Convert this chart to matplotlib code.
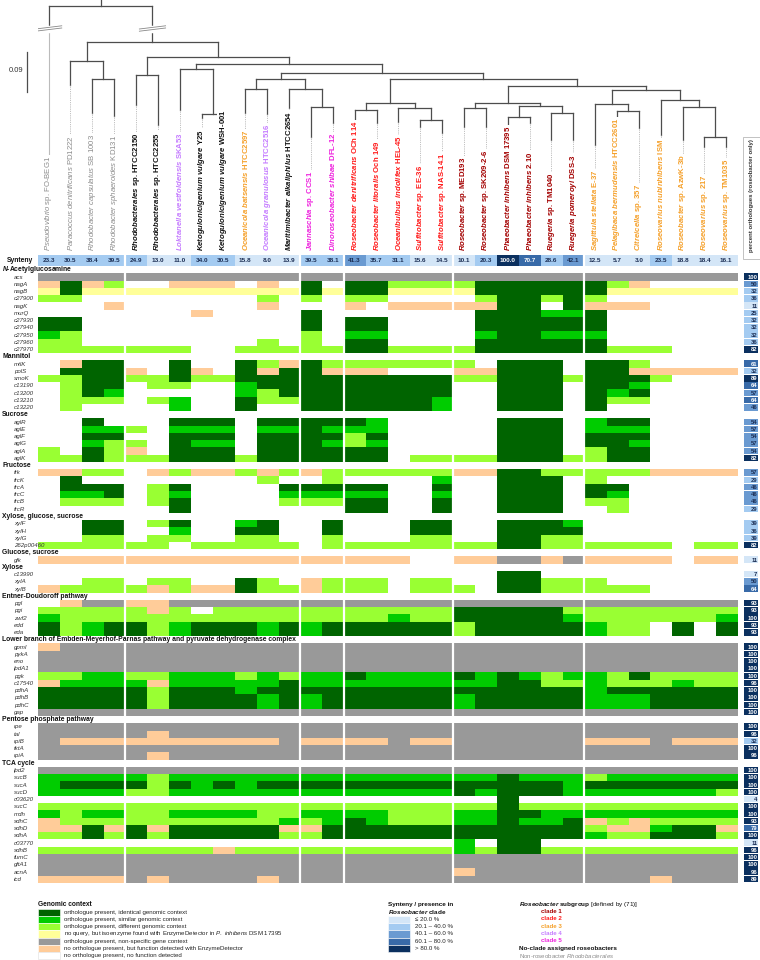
import numpy as np
import matplotlib
matplotlib.use("Agg")
import matplotlib.pyplot as plt
from matplotlib.patches import Rectangle
from matplotlib.colors import to_rgb
from matplotlib import font_manager as fm

_names = {f.name for f in fm.fontManager.ttflist}
NARROW = 'Liberation Sans Narrow' if 'Liberation Sans Narrow' in _names else 'Liberation Sans'
plt.rcParams['font.family'] = [NARROW, 'DejaVu Sans']
plt.rcParams['mathtext.fontset'] = 'custom'
plt.rcParams['mathtext.rm'] = NARROW
plt.rcParams['mathtext.it'] = NARROW + ':italic'
plt.rcParams['mathtext.bf'] = NARROW + ':italic:bold'
plt.rcParams['mathtext.sf'] = NARROW + ':bold'

# ---------------- data ----------------
ORG_GENUS = ["Pseudovibrio", "Paracoccus denitrificans", "Rhodobacter capsulatus", "Rhodobacter sphaeroides",
             "Rhodobacterales", "Rhodobacterales", "Loktanella vestfoldensis", "Ketogulonicigenium vulgare",
             "Ketogulonicigenium vulgare", "Oceanicola batsensis", "Oceanicola granulosus", "Maritimibacter alkaliphilus",
             "Jannaschia", "Dinoroseobacter shibae", "Roseobacter denitrificans", "Roseobacter litoralis",
             "Oceanibulbus indolifex", "Sulfitobacter", "Sulfitobacter", "Roseobacter", "Roseobacter",
             "Phaeobacter inhibens", "Phaeobacter inhibens", "Ruegeria", "Ruegeria pomeroyi", "Sagittula stellata",
             "Pelagibaca bermudensis", "Citreicella", "Roseovarius nubinhibens", "Roseobacter", "Roseovarius",
             "Roseovarius"]
ORG_STRAIN = ["sp. FO-BEG1", "PD1222", "SB 1003", "KD131", "sp. HTCC2150", "sp. HTCC2255", "SKA53", "Y25",
              "WSH-001", "HTCC2597", "HTCC2516", "HTCC2654", "sp. CCS1", "DFL-12", "OCh 114", "Och 149", "HEL-45",
              "sp. EE-36", "sp. NAS-14.1", "sp. MED193", "sp. SK209-2-6", "DSM 17395", "2.10", "sp. TM1040",
              "DSS-3", "E-37", "HTCC2601", "sp. 357", "ISM", "sp. AzwK-3b", "sp. 217", "sp. TM1035"]
ORG_GROUP = ["non", "non", "non", "non", "none", "none", "c4", "none", "none", "c3", "c4", "none", "c5", "c5",
             "c2", "c2", "c2", "c2", "c2", "c1", "c1", "c1", "c1", "c1", "c1", "c3", "c3", "c3", "c3", "c3", "c3", "c3"]
SYNTENY = [23.3, 30.5, 38.4, 39.5, 24.9, 13.0, 11.0, 34.0, 30.5, 15.8, 8.0, 13.9, 39.5, 38.1, 41.3, 35.7,
           31.1, 15.6, 14.5, 10.1, 20.3, 100.0, 70.7, 28.6, 42.1, 12.5, 5.7, 3.0, 23.5, 18.8, 18.4, 16.1]
GROUP_BOUNDS = [4, 12, 14, 19, 25]

# tree: leaf = column index, node = (height, left, right)
n_rhodo = (79, 2, 3)
n_para = (61, 1, n_rhodo)
n_htcc = (75, 4, 5)
n_keto = (114, 7, 8)
n_lokt = (69, 6, n_keto)
n_ocean = (89, 9, 10)
n_jann = (107, 12, 13)
n_mari = (88.7, 11, n_jann)
n_D = (79.3, n_ocean, n_mari)
n_rden = (110, 14, 15)
n_sulf = (120, 17, 18)
n_oind = (108, 16, n_sulf)
n_c2 = (103, n_rden, n_oind)
n_med = (108, 19, 20)
n_phaeo = (116.7, 21, 22)
n_rueg = (112.7, 23, 24)
n_X = (106, n_phaeo, n_rueg)
n_c1 = (102.7, n_med, n_X)
n_cit = (111, 26, 27)
n_AA = (104, 25, n_cit)
n_r217 = (137, 30, 31)
n_DD = (107, 29, n_r217)
n_BB = (100, 28, n_DD)
n_c3 = (90, n_AA, n_BB)
n_other = (86, n_c1, n_c3)
n_E = (79.3, n_c2, n_other)
n_C = (72.7, n_D, n_E)
n_B = (64, n_lokt, n_C)
n_Bp = (57, n_htcc, n_B)
n_A = (42, n_para, n_Bp)
ROOT = (5.7, 0, n_A)
LEAF_TIP = [31, 85, 113, 116, 105, 125, 110, 118, 128, 113, 114, 108, 137, 123, 120, 123, 122, 127, 133, 127,
            127, 127, 123, 140, 140, 145, 135, 128, 135, 140, 147, 147]

GENES_NAG = ["acs", "nagA", "nagB", "c27900", "nagK", "murQ", "c27930", "c27940", "c27950", "c27960", "c27970"]
CODES_NAG = ["GGGGGGGGGGGGGGGG" "GGGGGGGGGGGGGGGG",
             "PDPL..PPP.P.D.DD" "LLLLDDDDDDLP....",
             "YDYYYYYYYYYYDYDD" "YYYYDDDDDDYYYYYY",
             "LL........L.L.LL" "....LDDLDL......",
             "...P......P...P." "PPPPPDD.DPPP....",
             ".......P....D..." "....DDDMMD......",
             "DD..........D.DD" "....DDDDDD......",
             "DD..........D.DD" "....DDDDDD......",
             "ML..........L.MM" "....MDDMMM......",
             "LL........L.L.DD" "....DDDDDD......",
             "LLLLLLL..LLLLLDD" "LLLLDDDDDDLLL..."]
PCT_NAG = [100, 50, 32, 36, 11, 25, 32, 32, 32, 36, 82]

GENES_MAN = ["mtlK", "polS", "smoK", "c13190", "c13200", "c13210", "c13220"]
CODES_MAN = [".PDD..D..DLPDLLL" "LLLL.DDD.DDL....",
             ".DDDP.DP.DPDDPPP" "...PPDDD.DDPPPPP",
             "LLDDLLDLLDDDDDDD" "DDDLLDDDLDDDL...",
             ".LDD.LL..MDDDDDD" "DDD..DDD.DDM....",
             ".LDM.....MLDDDDD" "DDD..DDD.DMD....",
             ".LLL.LM..DLLDDDD" "DDM..DDD.DLL....",
             ".L....M..D..DDDD" "DDM..DDD.D......"]
PCT_MAN = [61, 32, 89, 64, 57, 64, 46]

GENES_SUC = ["aglR", "aglE", "aglF", "aglG", "aglA", "aglK"]
CODES_SUC = ["..D...DDD.DDDDDM" ".....DDD.MDD....",
             "..MML.MMM.MMDMMM" ".....DDD.MMM....",
             "..DD..DDD.DDDDLD" ".....DDD.DDD....",
             "..MLL.DMM.DDDMLM" ".....DDD.DDM....",
             "L.DLP.DDD.DDDDDD" ".....DDD.LDD....",
             "LLDLLLDDDLDDDDDD" ".LLLLDDDLLDD...."]
PCT_SUC = [54, 57, 54, 57, 54, 82]

GENES_FRU = ["frk", "frcK", "frcA", "frcC", "frcB", "frcR"]
CODES_FRU = ["PPLL.PLPPLPLPLLL" "LLLPPDDLLLLLPPPP",
             ".D........L..L.." "..M..DDD.L......",
             ".DDD.LD....DDDDD" "..D..DDD.DD.....",
             ".MMD.LM....MMMMM" "..M..DDD.DM.....",
             ".LLL.LD....LLLDD" "..D..DDD.LL.....",
             "......D.......DD" "..D..DDD..L....."]
PCT_FRU = [57, 29, 46, 46, 46, 29]

GENES_XGS = ["xylF", "xylH", "xylG", "262p00460"]
CODES_XGS = ["..DD.LD..MD..D.." ".DD..DDDM.......",
             "..DD..M..DD..D.." ".DD..DDDD.......",
             "..LL.LL..LL..L.." ".LL..DDLL.......",
             "LLLLLL.LLLLL.LLL" "LLLLLDDLLLLLL.LL"]
PCT_XGS = [39, 36, 39, 82]

GENES_GS = ["glk"]
CODES_GS = ["PPPPPPPPPPPPPPPP" "P..PPGGPGPPPP.PP"]
PCT_GS = [11]

GENES_XYL = ["c13990", "xylA", "xylB"]
CODES_XYL = ["................" ".....DD.........",
             "..LL.LL..DL.PLLL" ".LL..DDLLL......",
             "PLLLLPLPPDLLPLLL" ".LLL.DDLLLLL...."]
PCT_XYL = [7, 50, 64]

GENES_ED = ["pgl", "pgi", "zwf2", "edd", "eda"]
CODES_ED = [".PGGPPGGGGGGGGGG" "GGGGGGGGGGGGGGGG",
            "LLLLLPL.LLLLLLLL" "LLLDDDDDLLLLLLLL",
            "MLLLLLLLLLLLLLLL" "MLLDDDDDMLLLLLLM",
            "DLMDDLMDDDMDMDDD" "DDDLDDDDDMLL.D.D",
            "DLMDDLMDDDMDMDDD" "DDDLDDDDDMLL.D.D"]
PCT_ED = [93, 93, 100, 93, 93]

GENES_EMP = ["gpmI", "pykA", "eno", "lpdA1", "pgk", "c17540", "pdhA", "pdhB", "pdhC", "gap"]
CODES_EMP = ["PGGGGGGGGGGGGGGG" "GGGGGGGGGGGGGGGG",
             "GGGGGGGGGGGGGGGG" "GGGGGGGGGGGGGGGG",
             "GGGGGGGGGGGGGGGG" "GGGGGGGGGGGGGGGG",
             "GGGGGGGGGGGGGGGG" "GGGGGGGGGGGGGGGG",
             "LLMMLLMMMLMLMMDM" "MMMDMDMLMMLDLLLL",
             "PMMMMPMMMMMDMMMM" "MMMMMDDLLMLLLMLL",
             "DDDDDLDDDMDDDDDD" "DDDDDDDDDMDDDDDD",
             "DDDDDLDDDDMDMDDD" "DDDMDDDDDMMMDDDD",
             "DDDDDLDDDDMDMDDD" "DDDMDDDDDMMMDDDD",
             "GGGGGGGGGGGGGGGG" "GGGGGGGGGGGGGGGG"]
PCT_EMP = [100, 100, 100, 100, 100, 96, 100, 100, 100, 100]

GENES_PPP = ["rpe", "tal", "rpiB", "tktA", "rpiA"]
CODES_PPP = ["GGGGGGGGGGGGGGGG" "GGGGGGGGGGGGGGGG",
             "GGGGGPGGGGGGGGGG" "GGGGGGGGGGGGGGGG",
             "GPPPPPPPPPPGPPPP" "GPPGGGGGGPPPGPPP",
             "GGGGGGGGGGGGGGGG" "GGGGGGGGGGGGGGGG",
             "GGGGGPGGGGGGGGGG" "GGGGGGGGGGGGGGGG"]
PCT_PPP = [100, 96, 32, 100, 96]

GENES_TCA = ["lpd2", "sucB", "sucA", "sucD", "c03620", "sucC", "mdh", "sdhC", "sdhD", "sdhA", "c03770",
             "sdhB", "fumC", "gltA1", "acnA", "icd"]
CODES_TCA = ["GGGGGGGGGGGGGGGG" "GGGGGGGGGGGGGGGG",
             "MMMMMLMMMMMMMMMM" "MMMMMDMMMLMMMMMM",
             "MDDDDLDMDMDDDDDD" "DDDDDDDDMDDDDDDD",
             "MMMMLLMMMMMMMMMM" "MMMDMDDDMMMMMMML",
             "................" ".....D..........",
             "LLLLLLLLLLLLLLLL" "LLLLLDLLLLLLLLLL",
             "MLMMLLMMMMLLMMMM" "LLLMMDDMMMMMMMMM",
             "PLLLLLLLLLLMLMDM" "LLLMMDMMDPLPLLLL",
             "PPDPDPDDDDDPPDDD" "DDDDDDDDDLPPMDDP",
             "LLDLDLDDDDDLLDDD" "DDDDDDDDDMLLDDDL",
             "................" "...M.DD.........",
             "LLLLLLLLPLLLLLLL" "LLLMLDDLLLLLLLLL",
             "GGGGGGGGGGGGGGGG" "GGGGGGGGGGGGGGGG",
             "GGGGGGGGGGGGGGGG" "GGGGGGGGGGGGGGGG",
             "GGGGGGGGGGGGGGGG" "GGGPGGGGGGGGGGGG",
             "PPPPGPGGGGPGGGGG" "GGGGGGGGGGGGPGGG"]
PCT_TCA = [100, 100, 100, 100, 4, 100, 100, 93, 79, 100, 11, 96, 100, 100, 96, 89]

SECTIONS = [
    (r"$\mathbf{N}$-Acetylglucosamine", GENES_NAG, CODES_NAG, PCT_NAG),
    ("Mannitol", GENES_MAN, CODES_MAN, PCT_MAN),
    ("Sucrose", GENES_SUC, CODES_SUC, PCT_SUC),
    ("Fructose", GENES_FRU, CODES_FRU, PCT_FRU),
    ("Xylose, glucose, sucrose", GENES_XGS, CODES_XGS, PCT_XGS),
    ("Glucose, sucrose", GENES_GS, CODES_GS, PCT_GS),
    ("Xylose", GENES_XYL, CODES_XYL, PCT_XYL),
    ("Entner-Doudoroff pathway", GENES_ED, CODES_ED, PCT_ED),
    ("Lower branch of Embden-Meyerhof-Parnas pathway and pyruvate dehydrogenase complex", GENES_EMP, CODES_EMP, PCT_EMP),
    ("Pentose phosphate pathway", GENES_PPP, CODES_PPP, PCT_PPP),
    ("TCA cycle", GENES_TCA, CODES_TCA, PCT_TCA),
]

CELL_COLORS = {'D': '#006400', 'M': '#00cc00', 'L': '#99ff33', 'Y': '#ffff99',
               'G': '#999999', 'P': '#ffcc99', '.': '#ffffff'}
LEGEND_CODES = ['D', 'M', 'L', 'Y', 'G', 'P', '.']
LEGEND_TEXT = ["orthologue present, identical genomic context",
               "orthologue present, similar genomic context",
               "orthologue present, different genomic context",
               r"no query, but isoenzyme found with EnzymeDetector in $\mathit{P.\ inhibens}$ DSM 17395",
               "orthologue present, non-specific gene context",
               "no orthologue present, but function detected with EnzymeDetector",
               "no orthologue present, no function detected"]
BLUE_BINS = ['#d4e6f7', '#a4cbf1', '#6a9ad1', '#386aa8', '#0b305f']
BLUE_LABELS = ["\u2264 20.0 %", "20.1 \u2013 40.0 %", "40.1 \u2013 60.0 %", "60.1 \u2013 80.0 %", "> 80.0 %"]
GROUP_COLORS = {'non': '#8c8c8c', 'none': '#111111', 'c1': '#a30000', 'c2': '#ff1a1a',
                'c3': '#f5a02a', 'c4': '#c57cff', 'c5': '#ee22dd'}
CLADES = ['c1', 'c2', 'c3', 'c4', 'c5']


def blue(v):
    if v <= 20:
        return 0
    if v <= 40:
        return 1
    if v <= 60:
        return 2
    if v <= 80:
        return 3
    return 4


def it(s):
    return r'$\mathit{' + s.replace(' ', r'\ ') + '}$'


def bi(s):
    return r'$\mathbf{' + s.replace(' ', r'\ ') + '}$'


# ---------------- layout ----------------
W, H = 760, 960
fig = plt.figure(figsize=(7.6, 9.6), dpi=100)
HX0, HX1 = 37.7, 737.2
HY0, HY1 = 265.8, 882.6
NCOL = len(SYNTENY)


def px_axes(x0, y0, x1, y1):
    ax = fig.add_axes([x0 / W, 1 - y1 / H, (x1 - x0) / W, (y1 - y0) / H])
    ax.set_axis_off()
    return ax


# rows
rows = []
for title, genes, codes, pcts in SECTIONS:
    rows.append(('h', title, None, None))
    for g, c, p in zip(genes, codes, pcts):
        rows.append(('g', g, c, p))
NROW = len(rows)

img = np.ones((NROW, NCOL, 3))
for r, (kind, lab, code, pct) in enumerate(rows):
    if kind == 'g':
        for j, ch in enumerate(code):
            img[r, j] = to_rgb(CELL_COLORS[ch])

axh = px_axes(HX0, HY0, HX1, HY1)
axh.imshow(img, aspect='auto', interpolation='nearest', extent=(0, NCOL, NROW, 0))
axh.set_xlim(0, NCOL)
axh.set_ylim(NROW, 0)
for b in GROUP_BOUNDS:
    axh.axvline(b, color='white', lw=1.6)
cw = (HX1 - HX0) / NCOL
for r, (kind, lab, code, pct) in enumerate(rows):
    if kind == 'h':
        axh.text((2 - HX0) / cw, r + 0.55, lab, ha='left', va='center', fontsize=4.9,
                 fontweight='bold', color='#111111', clip_on=False)
    else:
        axh.text((14 - HX0) / cw, r + 0.55, lab, ha='left', va='center', fontsize=4.4,
                 style='italic', color='#333333', clip_on=False)

# percent column
axp = px_axes(744, HY0, 758.3, HY1)
axp.set_xlim(0, 1)
axp.set_ylim(NROW, 0)
for r, (kind, lab, code, pct) in enumerate(rows):
    if kind == 'g':
        k = blue(pct)
        axp.add_patch(Rectangle((0, r + 0.05), 1, 0.9, facecolor=BLUE_BINS[k], edgecolor='none'))
        axp.text(0.93, r + 0.55, str(pct), ha='right', va='center', fontsize=4.2, fontweight='bold',
                 color='white' if k >= 3 else '#1c2f55')

# synteny row
axs = px_axes(HX0, 255, HX1, 265.7)
simg = np.array([[to_rgb(BLUE_BINS[blue(v)]) for v in SYNTENY]])
axs.imshow(simg, aspect='auto', interpolation='nearest', extent=(0, NCOL, 1, 0))
axs.set_xlim(0, NCOL)
axs.set_ylim(1, 0)
for b in GROUP_BOUNDS:
    axs.axvline(b, color='white', lw=1.6)
for j, v in enumerate(SYNTENY):
    axs.text(j + 0.5, 0.55, f"{v:.1f}", ha='center', va='center', fontsize=4.6, fontweight='bold',
             color='white' if blue(v) >= 3 else '#1c2f55')

# tree
axt = px_axes(HX0, 0, HX1, 255)
axt.set_xlim(0, NCOL)
axt.set_ylim(255, 0)
TREE_C = '#4d4d4d'


def node_x(n):
    if isinstance(n, int):
        return n + 0.5
    return 0.5 * (node_x(n[1]) + node_x(n[2]))


def draw(n, parent_h):
    x = node_x(n)
    if isinstance(n, int):
        if n == 0:
            axt.plot([x, x], [parent_h, LEAF_TIP[n]], color=TREE_C, lw=0.9)
            axt.plot([x, x], [LEAF_TIP[n], 250], color='#bbbbbb', lw=0.8)
        else:
            axt.plot([x, x], [parent_h, LEAF_TIP[n]], color=TREE_C, lw=0.9)
            axt.plot([x, x], [LEAF_TIP[n], 250], color='#aaaaaa', lw=0.6, ls=(0, (1, 1.2)))
        return
    h = n[0]
    if parent_h is not None:
        axt.plot([x, x], [parent_h, h], color=TREE_C, lw=0.9)
    axt.plot([node_x(n[1]), node_x(n[2])], [h, h], color=TREE_C, lw=0.9)
    draw(n[1], h)
    draw(n[2], h)


draw(ROOT, None)
rx = node_x(ROOT)
axt.plot([rx, rx], [ROOT[0], 0], color=TREE_C, lw=0.9)
for bx in (node_x(ROOT[1]), node_x(ROOT[2])):
    axt.plot([bx, bx], [26.5, 30.5], color='white', lw=2.5, zorder=4)
    for off in (-1.1, 1.1):
        axt.plot([bx - 0.6, bx + 0.6], [28.5 + off + 1.6, 28.5 + off - 1.6], color='#888888', lw=0.6, zorder=5)

for j in range(NCOL):
    grp = ORG_GROUP[j]
    bold = grp != 'non'
    lab = (bi(ORG_GENUS[j]) if bold else it(ORG_GENUS[j])) + ' ' + ORG_STRAIN[j]
    axt.text(j + 0.5, 251, lab, rotation=90, ha='center', va='bottom', fontsize=5.6,
             fontweight='bold' if bold else 'normal', color=GROUP_COLORS[grp], zorder=6,
             bbox=dict(facecolor='white', edgecolor='none', pad=0.4))

# overlay for annotations and legend
axo = fig.add_axes([0, 0, 1, 1])
axo.set_xlim(0, W)
axo.set_ylim(H, 0)
axo.set_axis_off()

axo.plot([27, 27], [52, 92], color=TREE_C, lw=0.9)
axo.text(16, 71, "0.09", ha='center', va='center', fontsize=5.5, color='#333333')
axo.text(20, 260.4, "Synteny", ha='center', va='center', fontsize=4.9, fontweight='bold', color='#111111')
axo.add_patch(Rectangle((743, 137), 16.5, 122, facecolor='white', edgecolor='#aaaaaa', lw=0.5))
axo.text(751.3, 196, "percent orthologues (roseobacter only)", rotation=90, ha='center', va='center',
         fontsize=4.3, fontweight='bold', color='#333333')

# legend: genomic context
axo.text(38, 904.3, "Genomic context", ha='left', va='center', fontsize=4.8, fontweight='bold', color='#111111')
sh = 7.14
for k, (c, t) in enumerate(zip(LEGEND_CODES, LEGEND_TEXT)):
    axo.add_patch(Rectangle((38, 909 + k * sh), 22, sh, facecolor=CELL_COLORS[c],
                            edgecolor='#dddddd' if c == '.' else 'white', lw=0.4))
    axo.text(64.5, 909 + (k + 0.5) * sh, t, ha='left', va='center', fontsize=4.4, color='#222222')

# legend: synteny
axo.text(388, 904.3, "Synteny / presence in", ha='left', va='center', fontsize=4.6, fontweight='bold', color='#111111')
axo.text(388, 911.6, bi("Roseobacter") + " clade", ha='left', va='center', fontsize=4.6, fontweight='bold',
         color='#111111')
bh = 7.3
for k, (c, t) in enumerate(zip(BLUE_BINS, BLUE_LABELS)):
    axo.add_patch(Rectangle((388, 915.7 + k * bh), 22, bh, facecolor=c, edgecolor='white', lw=0.4))
    axo.text(415, 915.7 + (k + 0.5) * bh, t, ha='left', va='center', fontsize=4.4, color='#222222')

# legend: subgroups
axo.text(519, 904.3, r"$\mathbf{Roseobacter}\ \mathsf{subgroup}$ [defined by (71)]", ha='left', va='center',
         fontsize=4.6, color='#111111')
for k, c in enumerate(CLADES):
    axo.text(541, 911.7 + k * 7.3, f"clade {k + 1}", ha='left', va='center', fontsize=4.4,
             fontweight='bold', color=GROUP_COLORS[c])
axo.text(519, 948.3, "No-clade assigned roseobacters", ha='left', va='center', fontsize=4.6,
         fontweight='bold', color='#111111')
axo.text(519, 955.7, "Non-roseobacter " + it("Rhodobacterales"), ha='left', va='center', fontsize=4.4,
         color='#8c8c8c')

fig.savefig("out.png", dpi=100)
